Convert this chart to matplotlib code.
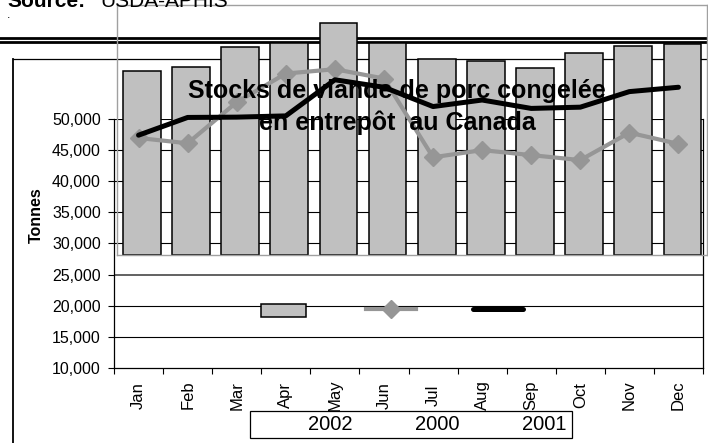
import matplotlib
matplotlib.use('Agg')
import matplotlib.pyplot as plt
from matplotlib.patches import Rectangle
from matplotlib.lines import Line2D

plt.rcParams['font.family'] = ['Liberation Sans', 'DejaVu Sans']

months = ['Jan', 'Feb', 'Mar', 'Apr', 'May', 'Jun',
          'Jul', 'Aug', 'Sep', 'Oct', 'Nov', 'Dec']
stocks_2002 = [39450, 40100, 43250, 43900, 47000, 43950,
               41300, 40950, 39950, 42250, 43350, 43650]
stocks_2000 = [46950, 46100, 52700, 57300, 58000, 56500,
               43850, 45000, 44200, 43400, 47800, 46000]
stocks_2001 = [47400, 50250, 50300, 50500, 56300, 55100,
               52000, 53050, 51700, 51900, 54400, 55100]
yticks = [10000, 15000, 20000, 25000, 30000, 35000, 40000, 45000, 50000]
series_names = ['2002', '2000', '2001']

W, H = 708, 443
BAR_GREY = '#c0c0c0'
LINE_GREY = '#969696'


def box(x0, y0, x1, y1):
    # pixel box (top-left origin) -> figure fraction rect
    return [x0 / W, 1 - y1 / H, (x1 - x0) / W, (y1 - y0) / H]


def fx(x):
    return x / W


def fy(y):
    return 1 - y / H


fig = plt.figure(figsize=(W / 100, H / 100), dpi=100)
xs = list(range(len(months)))

# main plot area
ax = fig.add_axes(box(114, 119, 703, 368), zorder=0)
ax.set_xlim(-0.5, 11.5)
ax.set_ylim(10000, 50000)
ax.set_yticks(yticks)
ax.set_yticklabels(['{:,}'.format(v) for v in yticks], fontsize=11.5)
ax.tick_params(axis='y', direction='out', length=4, width=0.8, pad=5.5)
for v in yticks[1:]:
    ax.axhline(v, color='#555555' if v == 25000 else 'black',
               lw=1.3 if v == 25000 else 0.8, zorder=0)
ax.set_xticks(xs)
ax.set_xticklabels(months, rotation=90, fontsize=12, va='center')
ax.set_xticks([i - 0.5 for i in range(13)], minor=True)
ax.tick_params(axis='x', which='major', length=0, pad=19.5)
ax.tick_params(axis='x', which='minor', direction='out', length=4, width=0.8)
ax.spines['top'].set_visible(False)
for s in ['left', 'bottom', 'right']:
    ax.spines[s].set_linewidth(0.9)

# shifted copy of the plot area holding the bars
ov = fig.add_axes(box(117.3, 4.7, 707, 255), zorder=1)
ov.patch.set_alpha(0)
ov.set_xlim(-0.5, 11.5)
ov.set_ylim(10000, 50000)
ov.bar(xs, [v - 10000 for v in stocks_2002], bottom=10000, width=0.77,
       color=BAR_GREY, edgecolor='black', linewidth=1.1)
ov.set_xticks([])
ov.set_yticks([])
for s in ov.spines.values():
    s.set_color('#a0a0a0')
    s.set_linewidth(1.0)

# lines on the main scale
al = fig.add_axes(box(114, 119, 703, 368), zorder=2)
al.patch.set_alpha(0)
al.axis('off')
al.set_xlim(-0.5, 11.5)
al.set_ylim(10000, 50000)
al.plot(xs, stocks_2000, color=LINE_GREY, lw=3, marker='D', ms=9.5,
        clip_on=False, solid_joinstyle='round')
al.plot(xs, stocks_2001, color='black', lw=3.6, clip_on=False,
        solid_capstyle='round', solid_joinstyle='round')

# page rules and chart border
fig.add_artist(Line2D([0, 1], [fy(37.7)] * 2, color='black', lw=2, zorder=-1))
fig.add_artist(Line2D([0, 1], [fy(42)] * 2, color='black', lw=2, zorder=-1))
fig.add_artist(Line2D([fx(12.7), 1], [fy(58.7)] * 2, color='black', lw=0.9, zorder=-1))
fig.add_artist(Line2D([fx(12.7)] * 2, [fy(58.7), 0], color='black', lw=1.3, zorder=-1))

# title
fig.text(fx(397), fy(98), 'Stocks de viande de porc congelée', ha='center',
         va='baseline', fontsize=18, fontweight='bold', zorder=4)
fig.text(fx(397), fy(130), 'en entrepôt  au Canada', ha='center',
         va='baseline', fontsize=18, fontweight='bold', zorder=4)

fig.text(fx(36), fy(215), 'Tonnes', rotation=90, ha='center', va='center',
         fontsize=11.5, fontweight='bold')

# source header (cut off at the top)
fig.text(fx(7), fy(7.3), 'Source:', ha='left', va='baseline',
         fontsize=15, fontweight='bold')
fig.text(fx(100), fy(7.3), 'USDA-APHIS', ha='left', va='baseline', fontsize=15)
fig.text(fx(7), fy(18), '.', ha='left', va='baseline', fontsize=9)

# legend (handles and labels drawn apart, as in the source)
fig.add_artist(Rectangle((fx(260.7), fy(317.3)), (306 - 260.7) / W, 13.3 / H,
                         facecolor=BAR_GREY, edgecolor='black', lw=1.1, zorder=5))
fig.add_artist(Line2D([fx(366), fx(416)], [fy(308.7)] * 2, color=LINE_GREY,
                      lw=3, zorder=5))
fig.add_artist(Line2D([fx(391)], [fy(308.7)], color=LINE_GREY, marker='D',
                      ms=9, zorder=5))
fig.add_artist(Line2D([fx(473), fx(523)], [fy(308.7)] * 2, color='black',
                      lw=3.6, zorder=5, solid_capstyle='round'))
fig.add_artist(Rectangle((fx(250), fy(438.3)), (571.7 - 250) / W, 27.6 / H,
                         facecolor='white', edgecolor='black', lw=0.9, zorder=5))
for name, cx in zip(series_names, [330.7, 437.5, 544.7]):
    fig.text(fx(cx), fy(424), name, ha='center', va='center', fontsize=14.5,
             zorder=6)

plt.savefig('out.png', dpi=100)
